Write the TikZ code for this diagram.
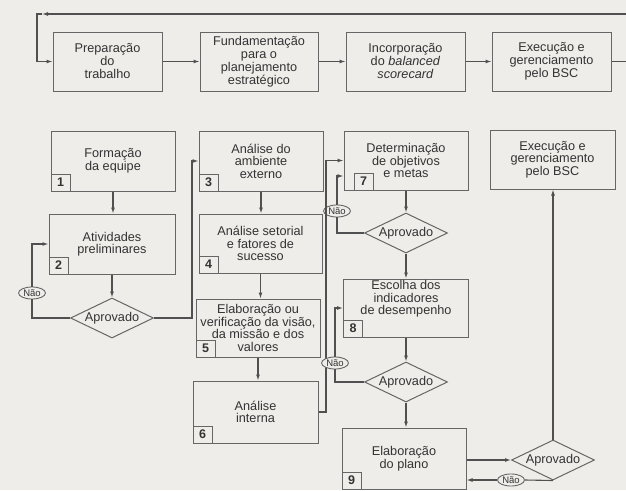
\documentclass[tikz,border=0pt]{standalone}
\usepackage{fontspec}
\setmainfont{Liberation Sans}
\usetikzlibrary{shapes.geometric,arrows.meta}
\definecolor{bg}{HTML}{EEEDEA}
\definecolor{ink}{HTML}{333333}
\definecolor{boxc}{HTML}{666666}
\definecolor{wirec}{HTML}{505050}
\begin{document}
\begin{tikzpicture}[x=1pt,y=-1pt,
  every node/.style={text=ink},
  box/.style={draw=boxc, line width=1pt, rectangle, inner sep=0pt, align=center, font=\fontsize{12.7}{12.5}\selectfont, fill=bg},
  topbox/.style={box, minimum height=59pt, font=\fontsize{12.7}{13}\selectfont},
  txt/.style={inner sep=0pt, align=center, font=\fontsize{12.7}{12.5}\selectfont},
  num/.style={draw=boxc, line width=1pt, rectangle, inner sep=0pt, minimum width=19pt, minimum height=17pt, font=\fontsize{12.5}{12.5}\selectfont\bfseries, anchor=south west},
  dec/.style={diamond, draw=boxc, line width=1pt, aspect=2.075, inner sep=0pt, minimum width=83pt, minimum height=40pt, font=\fontsize{12.7}{12.7}\selectfont, fill=bg},
  nao/.style={ellipse, draw=boxc, line width=0.9pt, inner sep=0.8pt, fill=bg, font=\fontsize{9.5}{9.5}\selectfont},
  wire/.style={draw=wirec, line width=1.1pt},
  arr/.style={wire, -{Latex[length=6pt,width=4pt]}},
]
\useasboundingbox (0,0) rectangle (626,490);
\fill[bg] (0,0) rectangle (626,490);
\clip (0,0) rectangle (626,490);

% top row
\node[topbox, minimum width=109pt] (p1) at (107.5,61.5) {Preparação\\do\\trabalho};
\node[topbox, minimum width=118pt] (p2) at (259,61.5) {Fundamentação\\para o\\planejamento\\estratégico};
\node[topbox, minimum width=119pt] (p3) at (405.5,61.5) {Incorporação\\do \textit{balanced}\\\textit{scorecard}};
\node[topbox, minimum width=119pt] (p4) at (551.5,61.5) {Execução e\\gerenciamento\\pelo BSC};
\coordinate (rtop) at (634,14);
\coordinate (rmid) at (634,61.5);
\coordinate (ltip) at (42,14);
\coordinate (lcol) at (37,14);
\draw[arr] (p1) -- (p2);
\draw[arr] (p2) -- (p3);
\draw[arr] (p3) -- (p4);
\draw[wire] (p4.east) -- (rmid) -- (rtop);
\draw[arr] (rtop) -- (ltip);
\draw[arr] (ltip) -- (lcol) |- (p1.west);

% column 1
\node[box, minimum width=124pt, minimum height=60pt] (b1) at (113,161) {Formação\\da equipe};
\node[num] (n1b) at (b1.south west) {1};
\node[box, minimum width=126pt, minimum height=60pt] (b2) at (112,244) {Atividades\\preliminares};
\node[num] (n2b) at (b2.south west) {2};
\node[dec] (d1) at (112,318) {Aprovado};
\node[nao] (n1) at (32,293) {Não};
\draw[arr] (b1.south) -- (b1.south |- b2.north);
\draw[arr] (b2.south) -- (d1.north);
\draw[wire] (d1.west) -| (n1.south);
\draw[arr] (n1.north) |- (b2.west);

% column 2
\node[box, minimum width=124pt, minimum height=60pt] (b3) at (261,161) {Análise do\\ambiente\\externo};
\node[num] (n3b) at (b3.south west) {3};
\node[box, minimum width=123pt, minimum height=59pt] (b4) at (260.5,243.5) {Análise setorial\\e fatores de\\sucesso};
\node[num] (n4b) at (b4.south west) {4};
\node[box, minimum width=124pt, minimum height=58pt] (b5) at (258,328) {Elaboração ou\\verificação da visão,\\da missão e dos\\valores};
\node[num] (n5b) at (b5.south west) {5};
\node[box, minimum width=125pt, minimum height=62pt] (b6) at (255.5,412) {Análise\\interna};
\node[num] (n6b) at (b6.south west) {6};
\coordinate (k1) at (192,300);
\draw[arr] (d1.east) -| (k1 |- b3.west) -- (b3.west);
\draw[arr] (b3.south) -- (b3.south |- b4.north);
\draw[arr] (b4.south) -- (b4.south |- b5.north);
\draw[arr] (b5.south) -- (b5.south |- b6.north);

% column 3
\node[box, minimum width=124pt, minimum height=59pt] (b7) at (406,160.5) {Determinação\\de objetivos\\e metas};
\node[num] (n7b) at ([xshift=10pt]b7.south west) {7};
\node[dec] (d7) at (406,233) {Aprovado};
\node[nao] (n7) at (337,211) {Não};
\coordinate (k2) at (326,300);
\draw[arr] (b6.east) -| (k2 |- b7.west) -- (b7.west);
\draw[arr] (b7.south) -- (d7.north);
\draw[wire] (d7.west) -| (n7.south);
\draw[arr] (n7.north) |- ([yshift=-15.5pt]b7.west);

\node[box, minimum width=125pt, minimum height=58pt] (b8) at (406,308) {};
\node[txt] (t8) at (406,299) {Escolha dos\\indicadores\\de desempenho};
\node[num] (n8b) at (b8.south west) {8};
\node[dec] (d8) at (406,382) {Aprovado};
\node[nao] (n8) at (335,363) {Não};
\draw[arr] (d7.south) -- (d7.south |- b8.north);
\draw[arr] (b8.south) -- (b8.south |- d8.north);
\draw[wire] (d8.west) -| (n8.south);
\draw[arr] (n8.north) |- (b8.west);

\node[box, minimum width=124pt, minimum height=61pt] (b9) at (404,458.5) {Elaboração\\do plano};
\node[num] (n9b) at (b9.south west) {9};
\draw[arr] (d8.south) -- (d8.south |- b9.north);

% column 4
\node[dec] (d9) at (553,460) {Aprovado};
\node[nao] (n9) at (511,480) {Não};
\node[box, minimum width=125pt, minimum height=59pt] (b10) at (552.5,159.5) {Execução e\\gerenciamento\\pelo BSC};
\draw[arr] (b9.east |- d9.west) -- (d9.west);
\draw[wire] (d9.south) -- (n9.east);
\draw[arr] (n9.west) -- (n9.west -| b9.east);
\draw[arr] (d9.north) -- (d9.north |- b10.south);
\end{tikzpicture}
\end{document}
